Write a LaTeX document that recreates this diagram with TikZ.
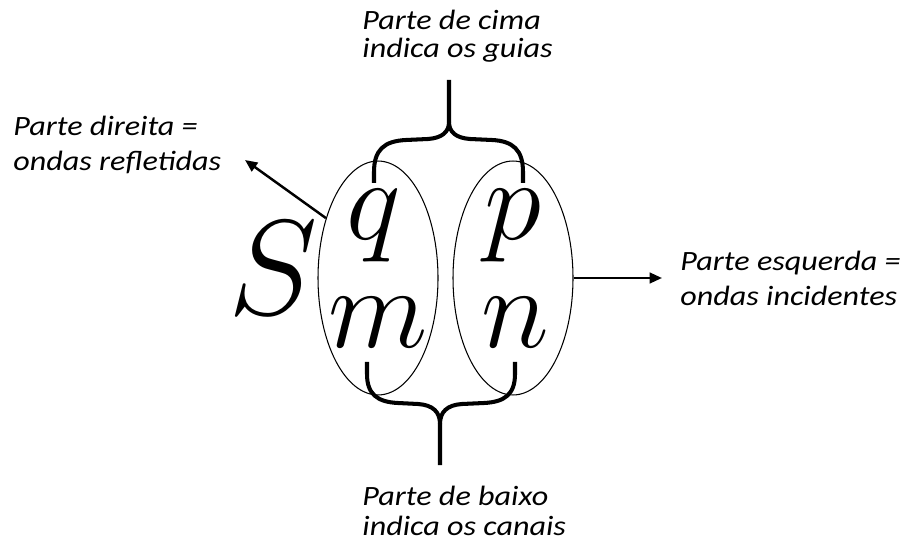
\documentclass[tikz,border=0pt]{standalone}
\usepackage{fix-cm}
\usepackage{fontspec}
\newfontfamily\lblfont{Carlito}
\usetikzlibrary{arrows.meta,shapes.geometric}

\begin{document}
\begin{tikzpicture}[x=0.02cm,y=-0.02cm,>=Stealth,
  lbl/.style={font=\lblfont\itshape\fontsize{15.9}{#1}\selectfont,
    align=left,anchor=base west,inner sep=0pt,xscale=1.15,transform shape},
  big/.style={font=\fontsize{66}{66}\selectfont,inner sep=0pt,anchor=base},
  grp/.style={ellipse,draw,line width=0.6pt,minimum width=2.4cm,minimum height=4.68cm,inner sep=0pt},
  brace/.style={line width=2.3pt,line join=round},
  arr/.style={line width=1.4pt,-{Triangle[length=7pt,width=6pt]}}]

\useasboundingbox (0,0) rectangle (909,550);

% ----- the two columns -----
\node[grp] (colL) at (378,278) {};
\node[grp] (colR) at (513,278) {};

% ----- the symbol -----
\node[big,font=\fontsize{77}{77}\selectfont] (S) at (273,315) {$S$};
\node[big] (q) at (374,240) {$q$};
\node[big] (p) at (513,240) {$p$};
\node[big] (m) at (378,348) {$m$};
\node[big] (n) at (515,348) {$n$};

% ----- labels (placed at the baseline of the last line) -----
\node[lbl=16] (top) at (362,58) {Parte de cima\\indica os guias};
\node[lbl=17] (bot) at (362,535) {Parte de baixo\\indica os canais};
\node[lbl=20] (lft) at (13,171) {Parte direita =\\ondas refletidas};
\node[lbl=20] (rgt) at (680,306) {Parte esquerda =\\ondas incidentes};

\coordinate (gtop) at (449,80);
\coordinate (gbot) at (440,465);
\coordinate (tipL) at (245,160);
\coordinate (tipR) at (662,278);

% top brace (q, p)
\draw[brace] (374,183) -- (374,172) .. controls (374,150) and (384,141) .. (406,140)
  -- (428,139) .. controls (442,138) and (449,132) .. (449,122) -- (gtop);
\draw[brace] (523,183) -- (523,172) .. controls (523,150) and (513,141) .. (492,140)
  -- (470,139) .. controls (456,138) and (449,132) .. (449,122);

% bottom brace (m, n)
\draw[brace] (367,362) -- (367,374) .. controls (367,394) and (377,402) .. (398,403)
  -- (418,404) .. controls (433,405) and (440,412) .. (440,424) -- (gbot);
\draw[brace] (515,362) -- (515,374) .. controls (515,394) and (505,402) .. (484,403)
  -- (462,404) .. controls (447,405) and (440,412) .. (440,424);

% arrows
\draw[arr] (colL.131) -- (tipL);
\draw[arr] (colR.east) -- (tipR);

\end{tikzpicture}
\end{document}
